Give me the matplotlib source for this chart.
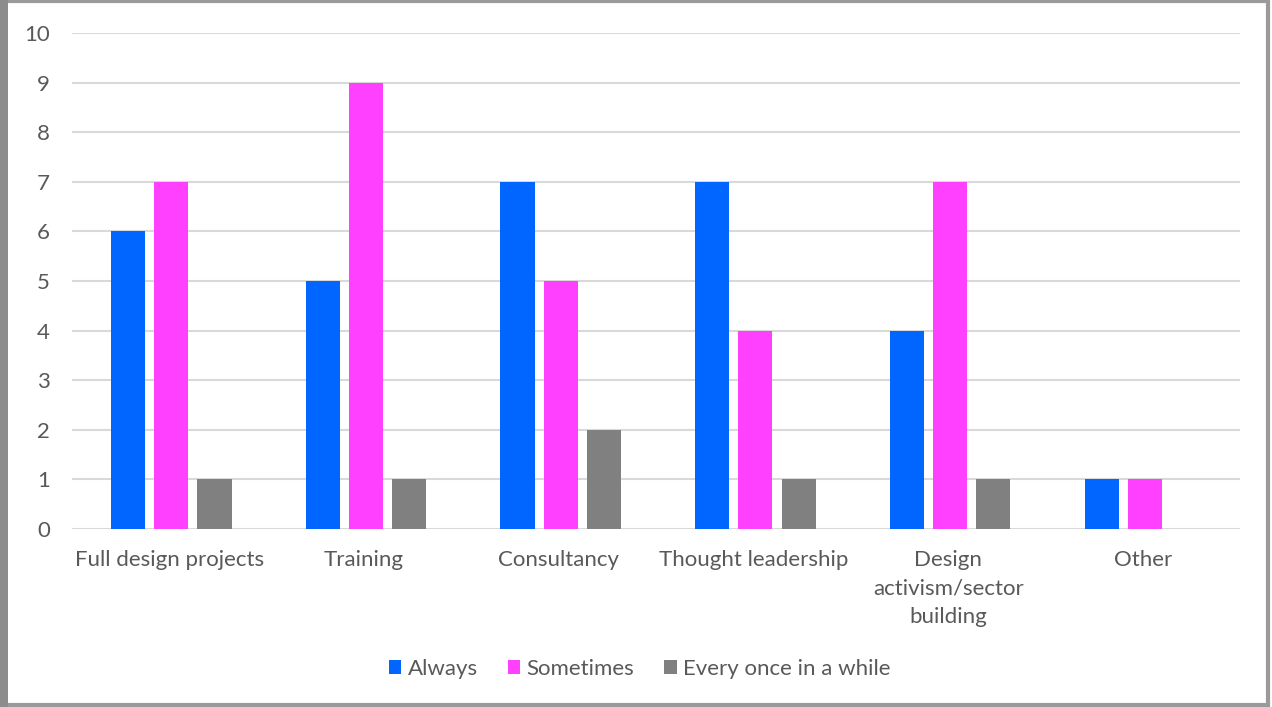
"""Grouped bar chart: how often each type of work is done."""

import numpy as np
import matplotlib
matplotlib.use("Agg")
import matplotlib.pyplot as plt
from matplotlib.patches import Rectangle

categories = ["Full design projects", "Training", "Consultancy",
              "Thought leadership", "Design\nactivism/sector\nbuilding", "Other"]
always     = [6, 5, 7, 7, 4, 1]
sometimes  = [7, 9, 5, 4, 7, 1]
occasional = [1, 1, 2, 1, 1, 0]

series = [("Always", always, "#0066FF"),
          ("Sometimes", sometimes, "#FF40FF"),
          ("Every once in a while", occasional, "#808080")]

TEXT = "#595959"
plt.rcParams["font.family"] = ["Lato", "DejaVu Sans"]

fig = plt.figure(figsize=(12.72, 7.07), dpi=100)
ax = fig.add_axes([0.0566, 0.2518, 0.9184, 0.7015])

x = np.arange(len(categories))
step, width = 0.222, 0.175
for i, (name, vals, color) in enumerate(series):
    ax.bar(x + 0.01 + (i - 1) * step, vals, width, color=color, label=name, zorder=3)

ax.set_xlim(-0.5, len(categories) - 0.5)
ax.set_ylim(0, 10)
ax.set_yticks(range(0, 11))
ax.yaxis.grid(True, color="#D9D9D9", lw=1.5, zorder=0)
ax.set_xticks(x)
ax.set_xticklabels(categories, fontsize=16, color=TEXT, linespacing=1.55)
ax.tick_params(axis="y", labelsize=16, labelcolor=TEXT, length=0, pad=16)
ax.tick_params(axis="x", length=0, pad=15)
for s in ax.spines.values():
    s.set_visible(False)

leg = fig.legend(loc="center", bbox_to_anchor=(0.503, 0.054), ncol=3, frameon=False,
                 fontsize=16, handlelength=0.55, handleheight=0.55, handletextpad=0.3,
                 columnspacing=1.35)
for t in leg.get_texts():
    t.set_color(TEXT)

# outer gray frame, heavier on the left like the source screenshot
fig.patches.append(Rectangle((0.004, 0.003), 0.993, 0.995, transform=fig.transFigure,
                             fill=False, edgecolor="#9A9A9A", lw=3))
fig.patches.append(Rectangle((0, 0), 0.006, 1, transform=fig.transFigure,
                             color="#8C8C8C", lw=0))

fig.savefig("out.png", dpi=100)
